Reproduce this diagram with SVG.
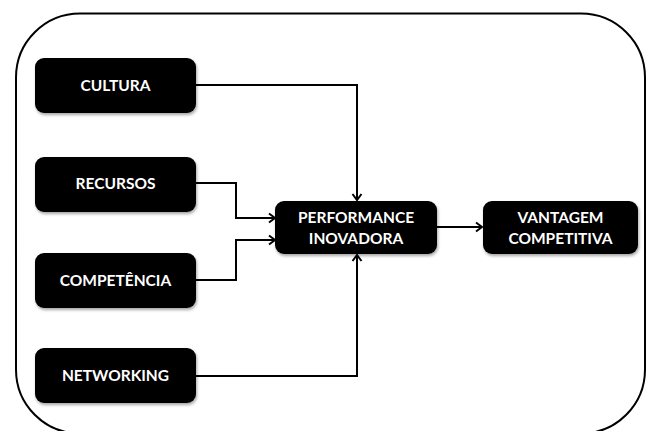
<svg xmlns="http://www.w3.org/2000/svg" width="646" height="431" viewBox="0 0 646 431">
<style>
.box{fill:#000;filter:url(#sh)}
.t{fill:#fff;font-family:Lato,"Open Sans","Liberation Sans",sans-serif;font-weight:bold;font-size:15.5px;text-anchor:middle}
.c{fill:none;stroke:#000;stroke-width:2}
</style>
<defs>
<filter id="sh" x="-10%" y="-20%" width="120%" height="150%">
<feDropShadow dx="1" dy="2" stdDeviation="1.5" flood-color="#000" flood-opacity="0.35"/>
</filter>
<marker id="ar" markerUnits="userSpaceOnUse" markerWidth="12" markerHeight="12" refX="9" refY="6" orient="auto">
<path d="M3,1.5 L9,6 L3,10.5" fill="none" stroke="#000" stroke-width="2"/>
</marker>
</defs>
<rect x="16" y="13.5" width="629" height="420" rx="64" ry="64" fill="#fff" stroke="#000" stroke-width="2"/>
<g id="connectors">
<path class="c" d="M196,85 H357 V200" marker-end="url(#ar)"/>
<path class="c" d="M196,183 H236 V218 H275" marker-end="url(#ar)"/>
<path class="c" d="M196,280 H236 V240 H275" marker-end="url(#ar)"/>
<path class="c" d="M196,376 H357 V255" marker-end="url(#ar)"/>
<path class="c" d="M437,227 H482" marker-end="url(#ar)"/>
</g>
<g id="cultura"><rect class="box" x="35" y="58" width="161" height="55" rx="9"/><text class="t" x="115.5" y="90.5">CULTURA</text></g>
<g id="recursos"><rect class="box" x="35" y="157" width="161" height="55" rx="9"/><text class="t" x="115.5" y="188.5">RECURSOS</text></g>
<g id="competencia"><rect class="box" x="35" y="253" width="161" height="55" rx="9"/><text class="t" x="115.5" y="285.5">COMPETÊNCIA</text></g>
<g id="networking"><rect class="box" x="35" y="348" width="161" height="55" rx="9"/><text class="t" x="115.5" y="381">NETWORKING</text></g>
<g id="performance"><rect class="box" x="275" y="201" width="162" height="53" rx="9"/><text class="t" x="356" y="222.5">PERFORMANCE</text><text class="t" x="356" y="243.5">INOVADORA</text></g>
<g id="vantagem"><rect class="box" x="483" y="201" width="155" height="53" rx="9"/><text class="t" x="560.5" y="222.5">VANTAGEM</text><text class="t" x="560.5" y="243.5">COMPETITIVA</text></g>
</svg>
